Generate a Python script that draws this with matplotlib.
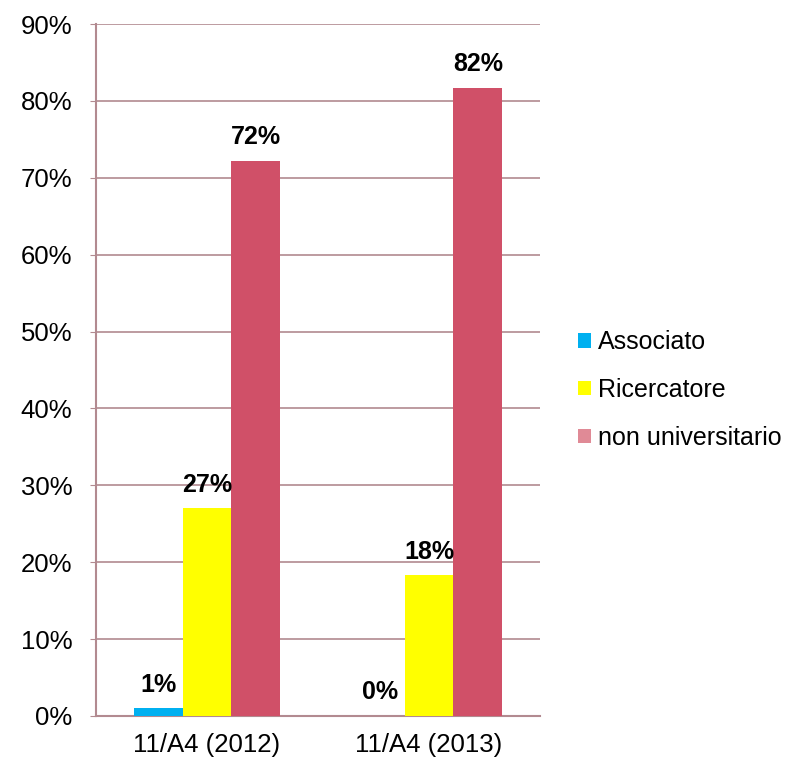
import numpy as np
import matplotlib.pyplot as plt
from matplotlib.patches import Patch

plt.rcParams['font.family'] = ['Liberation Sans', 'DejaVu Sans']

# Data
categories = ['11/A4 (2012)', '11/A4 (2013)']
series_names = ['Associato', 'Ricercatore', 'non universitario']
associato = [1.0, 0.0]
ricercatore = [27.0, 18.3]
non_univ = [72.2, 81.7]
labels = [['1%', '0%'], ['27%', '18%'], ['72%', '82%']]

bar_colors = ['#00b0f0', '#ffff00', '#d05068']
legend_colors = ['#00b0f0', '#ffff00', '#e08a96']
grid_color = '#b28a90'

fig = plt.figure(figsize=(7.96, 7.62), dpi=100)
ax = fig.add_axes([0.1206, 0.0604, 0.5578, 0.9081])

x = np.arange(len(categories))
w = 0.22
all_series = [associato, ricercatore, non_univ]
for i, vals in enumerate(all_series):
    xs = x + (i - 1) * w
    ax.bar(xs, vals, width=w, color=bar_colors[i], zorder=3)
    for xi, v, lab in zip(xs, vals, labels[i]):
        ax.text(xi, v + 1.5, lab, ha='center', va='bottom', fontsize=18,
                fontweight='bold', zorder=4)

ax.set_xlim(-0.5, 1.5)
ax.set_ylim(0, 90)
ax.set_yticks(np.arange(0, 91, 10))
ax.set_yticklabels([f'{v}%' for v in range(0, 91, 10)], fontsize=18.5)
ax.set_xticks(x)
ax.set_xticklabels(categories, fontsize=18.5)
ax.yaxis.grid(True, color=grid_color, linewidth=1.2, zorder=0)
ax.set_axisbelow(True)

for side in ['top', 'right']:
    ax.spines[side].set_visible(False)
for side in ['left', 'bottom']:
    ax.spines[side].set_color(grid_color)
    ax.spines[side].set_linewidth(1.5)
ax.tick_params(axis='y', length=4, color=grid_color, pad=13)
ax.tick_params(axis='x', length=0, pad=12)

handles = [Patch(facecolor=c, edgecolor='none') for c in legend_colors]
fig.legend(handles, series_names, loc='center left', bbox_to_anchor=(0.698, 0.488),
           frameon=False, fontsize=18, handlelength=0.5, handleheight=0.5,
           handletextpad=0.3, labelspacing=0.95)

plt.savefig('out.png', dpi=100)
